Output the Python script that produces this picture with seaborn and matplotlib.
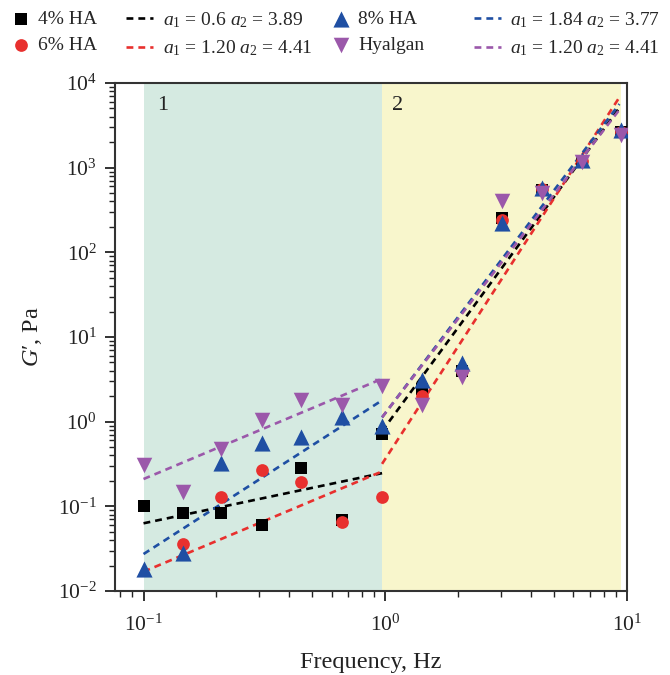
import numpy as np
import pandas as pd
import matplotlib
matplotlib.use("Agg")
import matplotlib.pyplot as plt
import matplotlib.ticker as mticker
import seaborn as sns

# ---------------- data ----------------
freq = [0.10, 0.145, 0.21, 0.31, 0.45, 0.66, 0.97, 1.42, 2.07, 3.03, 4.45, 6.5, 9.4]
g_4ha = [0.101, 0.084, 0.084, 0.060, 0.286, 0.069, 0.709, 2.43, 3.97, 256, 545, 1200, 2630]
g_6ha = [np.nan, 0.036, 0.130, 0.269, 0.192, 0.065, 0.130, 2.01, 3.97, 241, 560, 1200, 2660]
g_8ha = [0.0181, 0.0279, 0.322, 0.556, 0.653, 1.15, 0.889, 3.10, 4.97, 220, 570, 1233, 2786]
g_hya = [0.308, 0.149, 0.472, 1.05, 1.80, 1.57, 2.64, 1.57, 3.34, 404, 498, 1157, 2430]

series_names = ["4% HA", "6% HA", "8% HA", "Hyalgan"]

# power-law fits G = k * f^a in two frequency regions
fit_a1 = [0.60, 1.20, 1.84, 1.20]
fit_a2 = [3.89, 4.41, 3.77, 3.70]
fit_k1 = [0.251, 0.268, 1.89, 3.33]
fit_k2 = [0.87, 0.363, 1.26, 1.26]
fit_labels = [r"$a_1$ = 0.6 $a_2$ = 3.89",
              r"$a_1$ = 1.20 $a_2$ = 4.41",
              r"$a_1$ = 1.84 $a_2$ = 3.77",
              r"$a_1$ = 1.20 $a_2$ = 4.41"]
region1 = [0.1, 0.97]
region2 = [0.97, 9.45]
line_range1 = [0.1, 0.97]
line_range2 = [0.97, 9.3]
region_labels = ["1", "2"]
x_major = [0.1, 1.0, 10.0]
y_major = [1e-2, 1e-1, 1e0, 1e1, 1e2, 1e3, 1e4]

# ---------------- style ----------------
sns.set_style("ticks")
plt.rcParams["font.family"] = ["Liberation Serif", "DejaVu Serif"]
plt.rcParams["mathtext.fontset"] = "custom"
plt.rcParams["mathtext.rm"] = "Liberation Serif"
plt.rcParams["mathtext.it"] = "Liberation Serif:italic"
plt.rcParams["mathtext.bf"] = "Liberation Serif:bold"

colors = ["#000000", "#e8302e", "#1f4fa3", "#9b58aa"]
markers = ["s", "o", "^", "v"]
msizes = [66, 84, 135, 125]

W, H = 670, 675
fig = plt.figure(figsize=(6.7, 6.75), dpi=100)
ax = fig.add_axes([115 / W, 1 - 591 / H, (627 - 115) / W, (591 - 83) / H])
ax.set_xscale("log")
ax.set_yscale("log")

ax.axvspan(region1[0], region1[1], color="#d5eae1", lw=0, zorder=0)
ax.axvspan(region2[0], region2[1], color="#f8f6cc", lw=0, zorder=0)

series_vals = [g_4ha, g_6ha, g_8ha, g_hya]

line_handles = []
for i in range(4):
    f1 = np.array(line_range1)
    f2 = np.array(line_range2)
    d1 = pd.DataFrame({"f": f1, "G": fit_k1[i] * f1 ** fit_a1[i]})
    d2 = pd.DataFrame({"f": f2, "G": fit_k2[i] * f2 ** fit_a2[i]})
    sns.lineplot(data=d1, x="f", y="G", ax=ax, color=colors[i], lw=1.9,
                 linestyle=(0, (2.6, 1.9)), zorder=2)
    line_handles.append(ax.lines[-1])
    sns.lineplot(data=d2, x="f", y="G", ax=ax, color=colors[i], lw=1.9,
                 linestyle=(0, (2.6, 1.9)), zorder=2)

marker_handles = []
for i in range(4):
    df = pd.DataFrame({"f": freq, "G": series_vals[i]}).dropna()
    sns.scatterplot(data=df, x="f", y="G", ax=ax, color=colors[i], marker=markers[i],
                    s=msizes[i], linewidth=0, zorder=3 + i)
    marker_handles.append(ax.collections[-1])

ax.set_xlim(10 ** -1.118, 10.0)
ax.set_ylim(1e-2, 1e4)
ax.xaxis.set_major_locator(mticker.FixedLocator(x_major))
ax.yaxis.set_major_locator(mticker.FixedLocator(y_major))
ax.xaxis.set_major_formatter(mticker.LogFormatterSciNotation())
ax.yaxis.set_major_formatter(mticker.LogFormatterSciNotation())

ax.text(0.12, 10 ** 3.74, region_labels[0], fontsize=16, ha="center", va="center", color="#222222")
ax.text(1.12, 10 ** 3.74, region_labels[1], fontsize=16, ha="center", va="center", color="#222222")

ax.set_xlabel("Frequency, Hz", fontsize=17.5, labelpad=12, color="#222222")
ax.set_ylabel("$G$\u2032, Pa", fontsize=17.5, labelpad=10, color="#222222")
ax.tick_params(axis="both", which="major", direction="out", length=7, width=1.3,
               labelsize=15.5, colors="#222222")
ax.tick_params(axis="x", which="major", pad=10)
ax.tick_params(axis="y", which="major", pad=6)
ax.tick_params(axis="both", which="minor", direction="out", length=4, width=1.0, colors="#222222")
for sp in ax.spines.values():
    sp.set_visible(True)
    sp.set_linewidth(1.5)
    sp.set_color("#333333")

# legend: four columns placed individually
columns = [
    ([marker_handles[0], marker_handles[1]], [series_names[0], series_names[1]], 11, 1.0, 0.4),
    ([line_handles[0], line_handles[1]], [fit_labels[0], fit_labels[1]], 126, 1.4, 0.5),
    ([marker_handles[2], marker_handles[3]], [series_names[2], series_names[3]], 331, 1.0, 0.4),
    ([line_handles[2], line_handles[3]], [fit_labels[2], fit_labels[3]], 474, 1.4, 0.45),
]
for hs, ls, x0, hl, tp in columns:
    fig.legend(hs, ls, loc="upper left", bbox_to_anchor=(x0 / W, 1 - 10 / H),
               frameon=False, fontsize=14, handlelength=hl, handletextpad=tp,
               labelspacing=0.45, borderpad=0, borderaxespad=0)

fig.savefig("out.png", dpi=100)
